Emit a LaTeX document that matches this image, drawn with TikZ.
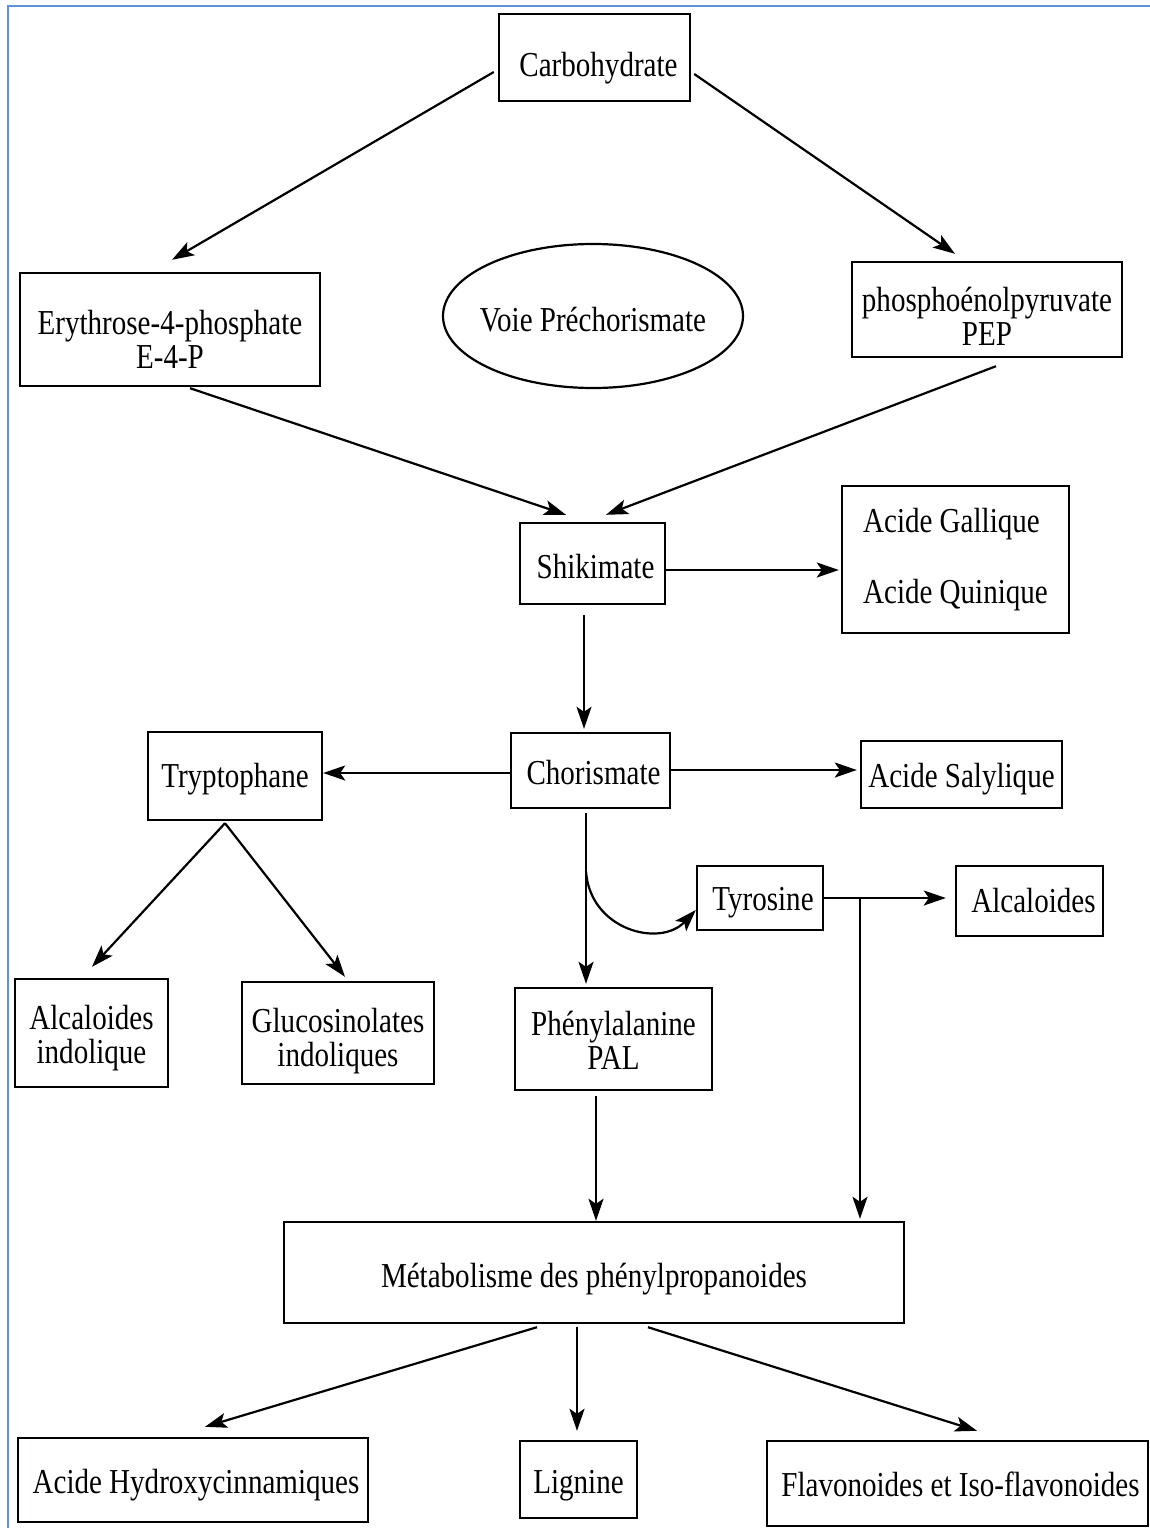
\documentclass[tikz,border=0pt]{standalone}
\usepackage{fontspec}
\setmainfont[FakeStretch=0.83]{Liberation Serif}
\usetikzlibrary{arrows.meta,shapes.geometric}
\definecolor{frameblue}{RGB}{95,145,225}
\tikzset{
  box/.style={draw, line width=2.4pt, inner sep=0pt, align=center, font=\fontsize{35pt}{34pt}\selectfont},
  oval/.style={draw, ellipse, line width=2.2pt, inner sep=0pt, font=\fontsize{35pt}{34pt}\selectfont},
  one/.style={text height=#1pt, text depth=7pt},
  arr/.style={line width=2.2pt, -{Stealth[length=22pt,width=15pt,inset=5pt]}},
}
\begin{document}
\begin{tikzpicture}[x=1pt,y=-1pt]
\useasboundingbox (0,0) rectangle (1150,1528);
\draw[frameblue, line width=2pt] (1150,6) -- (8,6) -- (8,1528);

\node[box, one=45, minimum width=191pt, minimum height=87pt] (carb) at (594.5,57.5) {\hspace*{8pt}Carbohydrate};
\node[box, one=85, minimum width=300pt, minimum height=113pt] (ery) at (170,329.5) {Erythrose-4-phosphate\\E-4-P};
\node[oval, one=38, minimum width=300pt, minimum height=144pt] (voie) at (593,316) {\makebox[150pt]{Voie Préchorismate}};
\node[box, one=79, minimum width=270pt, minimum height=95pt] (pep) at (987,309.5) {phosphoénolpyruvate\\PEP};
\node[box, one=36, minimum width=145pt, minimum height=81pt] (shik) at (592.5,563.5) {\hspace*{6pt}Shikimate};
\node[box, minimum width=227pt, minimum height=147pt, align=left] (acg) at (955.5,559.5) {Acide Gallique\\[37pt]Acide Quinique};
\node[box, one=35, minimum width=159pt, minimum height=75pt] (chor) at (590.5,770.5) {\hspace*{6pt}Chorismate};
\node[box, one=30, minimum width=174pt, minimum height=88pt] (tryp) at (235,776) {Tryptophane};
\node[box, one=33, minimum width=201pt, minimum height=67pt] (sal) at (961.5,774.5) {Acide Salylique};
\node[box, one=32, minimum width=126pt, minimum height=64pt] (tyr) at (760,898) {\hspace*{6pt}Tyrosine};
\node[box, one=30, minimum width=147pt, minimum height=70pt] (alc) at (1029.5,901) {\hspace*{8pt}Alcaloides};
\node[box, one=68, minimum width=197pt, minimum height=102pt] (phe) at (613.5,1039) {Phénylalanine\\PAL};
\node[box, one=68, minimum width=153pt, minimum height=108pt] (alcind) at (91.5,1033) {Alcaloides\\indolique};
\node[box, one=74, minimum width=192pt, minimum height=102pt] (gluc) at (338,1033) {Glucosinolates\\indoliques};
\node[box, one=37, minimum width=620pt, minimum height=101pt] (met) at (594,1272.5) {Métabolisme des phénylpropanoides};
\node[box, one=34, minimum width=350pt, minimum height=84pt] (ach) at (193,1480) {\hspace*{6pt}Acide Hydroxycinnamiques};
\node[box, one=35, minimum width=117pt, minimum height=77pt] (lig) at (578.5,1479.5) {Lignine};
\node[box, one=33, minimum width=381pt, minimum height=85pt] (flav) at (957.5,1483.5) {\hspace*{6pt}Flavonoides et Iso-flavonoides};

\draw[arr] ([shift={(-4,14.5)}]carb.west) -- ([shift={(2,-12)}]ery.north);
\draw[arr] ([shift={(3,16.5)}]carb.east) -- ([shift={(-32,-7)}]pep.north);
\draw[arr] ([shift={(20,1)}]ery.south) -- ([shift={(-26.5,-7)}]shik.north);
\draw[arr] ([shift={(9,8)}]pep.south) -- ([shift={(13.5,-7)}]shik.north);
\draw[arr] ([shift={(0,6.5)}]shik.east) -- ([shift={(-2,10.5)}]acg.west);
\draw[arr] ([shift={(-8.5,10)}]shik.south) -- ([shift={(-6.5,-3)}]chor.north);
\draw[arr] ([shift={(0,2.5)}]chor.west) -- ([shift={(0,-3)}]tryp.east);
\draw[arr] ([shift={(0,-0.5)}]chor.east) -- ([shift={(-3,-4.5)}]sal.west);
\draw[arr] ([shift={(-4.5,4)}]chor.south) -- ([shift={(-27.5,-3)}]phe.north);
\draw[arr] ([shift={(-4.5,62)}]chor.south) .. controls (590,930) and (660,948) .. ([shift={(0,12)}]tyr.west);
\draw[arr] (tyr.east) -- ([shift={(-9,-3)}]alc.west);
\draw[arr] ([shift={(35.8,0)}]tyr.east) -- ([shift={(266,-2)}]met.north);
\draw[arr] ([shift={(-17.5,5)}]phe.south) -- ([shift={(2,0)}]met.north);
\draw[arr] ([shift={(-10,2)}]tryp.south) -- ([shift={(0.5,-11)}]alcind.north);
\draw[arr] ([shift={(-10,2)}]tryp.south) -- ([shift={(7,-4)}]gluc.north);
\draw[arr] ([shift={(-57,3)}]met.south) -- ([shift={(12,-10)}]ach.north);
\draw[arr] ([shift={(-17,3)}]met.south) -- ([shift={(-1.5,-9)}]lig.north);
\draw[arr] ([shift={(54,3)}]met.south) -- ([shift={(19.5,-9)}]flav.north);
\end{tikzpicture}
\end{document}
